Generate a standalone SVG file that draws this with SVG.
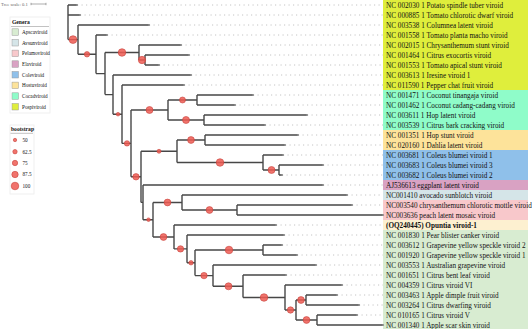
<svg xmlns="http://www.w3.org/2000/svg" width="532" height="329" viewBox="0 0 532 329">
<style>
text{font-family:"Liberation Serif","Times New Roman",serif;fill:#111}
.lb{font-size:7.2px}
.lbb{font-size:7.2px;font-weight:bold}
.lg{font-size:5.2px}
.lgt{font-size:5.6px;font-weight:bold}
.sc{font-size:4.6px;fill:#666}
.br{fill:none;stroke:#474747;stroke-width:1.4}
.ld{stroke:#c4c4c4;stroke-width:1;stroke-dasharray:1.2 3.3}
.tip{fill:#8a8a8a}
.bs{fill:#ef5b52;fill-opacity:0.85;stroke:#c8453e;stroke-width:0.6}
.box{fill:#fff;stroke:#ececec;stroke-width:0.8}
.sw{stroke:#9a9a9a;stroke-width:0.5}
</style>
<rect width="532" height="329" fill="#fff"/>

<g id="bands">
<rect x="383" y="0" width="145" height="90" fill="#dfee3c"/>
<rect x="383" y="90" width="145" height="40" fill="#8ffcc9"/>
<rect x="383" y="130" width="145" height="20" fill="#fde39a"/>
<rect x="383" y="150" width="145" height="30" fill="#8fc0ea"/>
<rect x="383" y="180" width="145" height="10" fill="#d9a2c3"/>
<rect x="383" y="190" width="145" height="10" fill="#d5e5e8"/>
<rect x="383" y="200" width="145" height="20" fill="#f8c8cb"/>
<rect x="383" y="220" width="145" height="10" fill="#fdf0d0"/>
<rect x="383" y="230" width="145" height="99" fill="#d8ecd1"/>
</g>

<g id="scale">
<text class="sc" x="1" y="5.5">Tree scale: 0.1</text>
<path d="M31,4H46 M31,2.8V5.2 M46,2.8V5.2" stroke="#777" stroke-width="0.6" fill="none"/>
</g>

<g id="legend-genera">
<rect class="box" x="10" y="17" width="40" height="96"/>
<text class="lgt" x="12" y="24">Genera</text>
<line x1="11" y1="26.5" x2="49" y2="26.5" stroke="#999" stroke-width="0.6"/>
<rect class="sw" x="12" y="28.8" width="6.5" height="6.5" fill="#d8ecd1"/><text class="lg" x="22" y="33.8">Apscaviroid</text>
<rect class="sw" x="12" y="39.5" width="6.5" height="6.5" fill="#d5e5e8"/><text class="lg" x="22" y="44.5">Avsunviroid</text>
<rect class="sw" x="12" y="50.1" width="6.5" height="6.5" fill="#f8c8cb"/><text class="lg" x="22" y="55.1">Pelamoviroid</text>
<rect class="sw" x="12" y="60.8" width="6.5" height="6.5" fill="#d9a2c3"/><text class="lg" x="22" y="65.8">Elaviroid</text>
<rect class="sw" x="12" y="71.5" width="6.5" height="6.5" fill="#8fc0ea"/><text class="lg" x="22" y="76.5">Coleviroid</text>
<rect class="sw" x="12" y="82.1" width="6.5" height="6.5" fill="#fde39a"/><text class="lg" x="22" y="87.1">Hostuviroid</text>
<rect class="sw" x="12" y="92.8" width="6.5" height="6.5" fill="#8ffcc9"/><text class="lg" x="22" y="97.8">Cocadviroid</text>
<rect class="sw" x="12" y="103.5" width="6.5" height="6.5" fill="#dfee3c"/><text class="lg" x="22" y="108.5">Pospiviroid</text>
</g>

<g id="legend-bootstrap">
<rect class="box" x="10" y="125" width="24" height="69"/>
<text class="lgt" x="11" y="130.5">bootstrap</text>
<line x1="10.5" y1="133.3" x2="33" y2="133.3" stroke="#999" stroke-width="0.6"/>
<circle class="bs" cx="15" cy="140" r="1.7"/><text class="lg" x="22.5" y="141.8">50</text>
<circle class="bs" cx="15" cy="151.7" r="2.2"/><text class="lg" x="22.5" y="153.5">62.5</text>
<circle class="bs" cx="15" cy="163" r="2.7"/><text class="lg" x="22.5" y="164.8">75</text>
<circle class="bs" cx="15" cy="174.5" r="3.2"/><text class="lg" x="22.5" y="176.3">87.5</text>
<circle class="bs" cx="15" cy="186" r="3.8"/><text class="lg" x="22.5" y="187.8">100</text>
</g>

<g id="connectors">
<path class="br" d="M68,5V39.6 M68,5H77 M68,15H80 M68,39.6H78
M78,25V54.3 M78,25H149 M78,54.3H96
M96,35V73.6 M96,35H107 M96,73.6H105
M105,52.5V94.6 M105,52.5H139 M105,94.6H113
M139,45V60 M139,45H181 M139,60H145
M145,55V65 M145,55H189 M145,65H159
M113,75V114.2 M113,75H191 M113,114.2H122
M122,85V143.4 M122,85H184 M122,143.4H131
M131,110V176.8 M131,110H168 M131,176.8H141
M168,100V120 M168,100H197 M168,120H204
M197,95V105 M197,95H253 M197,105H235
M204,115V125 M204,115H307 M204,125H265
M141,151.3V202.4 M141,151.3H177 M141,202.4H143
M177,140V162.5 M177,140H205 M177,162.5H263
M205,135V145 M205,135H298 M205,145H285
M263,155V170 M263,155H283 M263,170H279
M279,165V175 M279,165H323 M279,175H282
M143,185V219.7 M143,185H323 M143,219.7H153
M153,202.5V237 M153,202.5H182 M153,237H174
M182,195V210 M182,195H347 M182,210H237
M237,205V215 M237,205H352 M237,215H383
M174,225V248.9 M174,225H276 M174,248.9H187
M187,235V262.8 M187,235H284 M187,262.8H195
M195,250V275.6 M195,250H263 M195,275.6H213
M263,245V255 M263,245H282 M263,255H297
M213,265V286.3 M213,265H316 M213,286.3H243
M243,275V297.5 M243,275H286 M243,297.5H285
M285,285V310 M285,285H342 M285,310H296
M296,300V320 M296,300H306 M296,320H317
M306,295V305 M306,295H337 M306,305H359
M317,315V325 M317,315H357 M317,325H383"/>
<path class="ld" d="M77,5H383 M80,15H383 M149,25H383 M107,35H383 M181,45H383 M189,55H383 M159,65H383 M191,75H383 M184,85H383 M253,95H383 M235,105H383 M307,115H383 M265,125H383 M298,135H383 M285,145H383 M283,155H383 M323,165H383 M282,175H383 M323,185H383 M347,195H383 M352,205H383 M276,225H383 M284,235H383 M282,245H383 M297,255H383 M316,265H383 M286,275H383 M342,285H383 M337,295H383 M359,305H383 M357,315H383"/>
</g>

<g id="bootstrap-nodes">
<circle id="n-DD" class="bs" cx="73" cy="39.6" r="3.9"/>
<circle id="n-CC" class="bs" cx="87" cy="54.3" r="2.7"/>
<circle id="n-BB" class="bs" cx="122" cy="52.5" r="3.8"/>
<circle id="n-AA" class="bs" cx="142" cy="60" r="3.7"/>
<circle id="n-X" class="bs" cx="118" cy="114.2" r="1.8"/>
<circle id="n-W" class="bs" cx="127" cy="143.4" r="2.7"/>
<circle id="n-V" class="bs" cx="149.5" cy="110" r="3.5"/>
<circle id="n-T" class="bs" cx="182.5" cy="100" r="3"/>
<circle id="n-U" class="bs" cx="186" cy="120" r="3.5"/>
<circle id="n-A" class="bs" cx="136" cy="176.8" r="3.2"/>
<circle id="n-S" class="bs" cx="159" cy="151.3" r="2"/>
<circle id="n-P" class="bs" cx="191" cy="140" r="3.4"/>
<circle id="n-R" class="bs" cx="220" cy="162.5" r="3.8"/>
<circle id="n-Q" class="bs" cx="271.5" cy="170" r="3.5"/>
<circle id="n-C" class="bs" cx="148.5" cy="219.7" r="1.8"/>
<circle id="n-D" class="bs" cx="167.5" cy="202.5" r="3.4"/>
<circle id="n-F" class="bs" cx="209.5" cy="210" r="3.4"/>
<circle id="n-E" class="bs" cx="163.5" cy="237" r="3.4"/>
<circle id="n-G" class="bs" cx="180.5" cy="248.9" r="3.2"/>
<circle id="n-H" class="bs" cx="191" cy="262.8" r="2.2"/>
<circle id="n-I" class="bs" cx="229" cy="250" r="3.8"/>
<circle id="n-J" class="bs" cx="204" cy="275.6" r="3.2"/>
<circle id="n-K" class="bs" cx="228.5" cy="286.3" r="3.5"/>
<circle id="n-L" class="bs" cx="264" cy="297.5" r="3.8"/>
<circle id="n-M" class="bs" cx="290.5" cy="310" r="3.2"/>
<circle id="n-N" class="bs" cx="301" cy="300" r="3.4"/>
<circle id="n-O" class="bs" cx="306.5" cy="320" r="3.4"/>
</g>

<g id="leaves">
<g id="leaf-NC002030"><circle class="tip" cx="77" cy="5" r="1.1"/><text class="lb" x="386" y="7.5">NC 002030 1 Potato spindle tuber viroid</text></g>
<g id="leaf-NC000885"><circle class="tip" cx="80" cy="15" r="1.1"/><text class="lb" x="386" y="17.5">NC 000885 1 Tomato chlorotic dwarf viroid</text></g>
<g id="leaf-NC003538"><circle class="tip" cx="149" cy="25" r="1.1"/><text class="lb" x="386" y="27.5">NC 003538 1 Columnea latent viroid</text></g>
<g id="leaf-NC001558"><circle class="tip" cx="107" cy="35" r="1.1"/><text class="lb" x="386" y="37.5">NC 001558 1 Tomato planta macho viroid</text></g>
<g id="leaf-NC002015"><circle class="tip" cx="181" cy="45" r="1.1"/><text class="lb" x="386" y="47.5">NC 002015 1 Chrysanthemum stunt viroid</text></g>
<g id="leaf-NC001464"><circle class="tip" cx="189" cy="55" r="1.1"/><text class="lb" x="386" y="57.5">NC 001464 1 Citrus exocortis viroid</text></g>
<g id="leaf-NC001553"><circle class="tip" cx="159" cy="65" r="1.1"/><text class="lb" x="386" y="67.5">NC 001553 1 Tomato apical stunt viroid</text></g>
<g id="leaf-NC003613"><circle class="tip" cx="191" cy="75" r="1.1"/><text class="lb" x="386" y="77.5">NC 003613 1 Iresine viroid 1</text></g>
<g id="leaf-NC011590"><circle class="tip" cx="184" cy="85" r="1.1"/><text class="lb" x="386" y="87.5">NC 011590 1 Pepper chat fruit viroid</text></g>
<g id="leaf-NC001471"><circle class="tip" cx="253" cy="95" r="1.1"/><text class="lb" x="386" y="97.5">NC 001471 1 Coconut tinangaja viroid</text></g>
<g id="leaf-NC001462"><circle class="tip" cx="235" cy="105" r="1.1"/><text class="lb" x="386" y="107.5">NC 001462 1 Coconut cadang-cadang viroid</text></g>
<g id="leaf-NC003611"><circle class="tip" cx="307" cy="115" r="1.1"/><text class="lb" x="386" y="117.5">NC 003611 1 Hop latent viroid</text></g>
<g id="leaf-NC003539"><circle class="tip" cx="265" cy="125" r="1.1"/><text class="lb" x="386" y="127.5">NC 003539 1 Citrus bark cracking viroid</text></g>
<g id="leaf-NC001351"><circle class="tip" cx="298" cy="135" r="1.1"/><text class="lb" x="386" y="137.5">NC 001351 1 Hop stunt viroid</text></g>
<g id="leaf-NC020160"><circle class="tip" cx="285" cy="145" r="1.1"/><text class="lb" x="386" y="147.5">NC 020160 1 Dahlia latent viroid</text></g>
<g id="leaf-NC003681"><circle class="tip" cx="283" cy="155" r="1.1"/><text class="lb" x="386" y="157.5">NC 003681 1 Coleus blumei viroid 1</text></g>
<g id="leaf-NC003683"><circle class="tip" cx="323" cy="165" r="1.1"/><text class="lb" x="386" y="167.5">NC 003683 1 Coleus blumei viroid 3</text></g>
<g id="leaf-NC003682"><circle class="tip" cx="282" cy="175" r="1.1"/><text class="lb" x="386" y="177.5">NC 003682 1 Coleus blumei viroid 2</text></g>
<g id="leaf-AJ536613"><circle class="tip" cx="323" cy="185" r="1.1"/><text class="lb" x="386" y="187.5">AJ536613 eggplant latent viroid</text></g>
<g id="leaf-NC001410"><circle class="tip" cx="347" cy="195" r="1.1"/><text class="lb" x="386" y="197.5">NC001410 avocado sunblotch viroid</text></g>
<g id="leaf-NC003540"><circle class="tip" cx="352" cy="205" r="1.1"/><text class="lb" x="386" y="207.5">NC003540 chrysanthemum chlorotic mottle viroid</text></g>
<g id="leaf-NC003636"><circle class="tip" cx="383" cy="215" r="1.1"/><text class="lb" x="386" y="217.5">NC003636 peach latent mosaic viroid</text></g>
<g id="leaf-OQ240445"><circle class="tip" cx="276" cy="225" r="1.1"/><text class="lbb" x="386" y="227.5">(OQ240445) Opuntia viroid-1</text></g>
<g id="leaf-NC001830"><circle class="tip" cx="284" cy="235" r="1.1"/><text class="lb" x="386" y="237.5">NC 001830 1 Pear blister canker viroid</text></g>
<g id="leaf-NC003612"><circle class="tip" cx="282" cy="245" r="1.1"/><text class="lb" x="386" y="247.5">NC 003612 1 Grapevine yellow speckle viroid 2</text></g>
<g id="leaf-NC001920"><circle class="tip" cx="297" cy="255" r="1.1"/><text class="lb" x="386" y="257.5">NC 001920 1 Grapevine yellow speckle viroid 1</text></g>
<g id="leaf-NC003553"><circle class="tip" cx="316" cy="265" r="1.1"/><text class="lb" x="386" y="267.5">NC 003553 1 Australian grapevine viroid</text></g>
<g id="leaf-NC001651"><circle class="tip" cx="286" cy="275" r="1.1"/><text class="lb" x="386" y="277.5">NC 001651 1 Citrus bent leaf viroid</text></g>
<g id="leaf-NC004359"><circle class="tip" cx="342" cy="285" r="1.1"/><text class="lb" x="386" y="287.5">NC 004359 1 Citrus viroid VI</text></g>
<g id="leaf-NC003463"><circle class="tip" cx="337" cy="295" r="1.1"/><text class="lb" x="386" y="297.5">NC 003463 1 Apple dimple fruit viroid</text></g>
<g id="leaf-NC003264"><circle class="tip" cx="359" cy="305" r="1.1"/><text class="lb" x="386" y="307.5">NC 003264 1 Citrus dwarfing viroid</text></g>
<g id="leaf-NC010165"><circle class="tip" cx="357" cy="315" r="1.1"/><text class="lb" x="386" y="317.5">NC 010165 1 Citrus viroid V</text></g>
<g id="leaf-NC001340"><circle class="tip" cx="383" cy="325" r="1.1"/><text class="lb" x="386" y="327.5">NC 001340 1 Apple scar skin viroid</text></g>
</g>
</svg>
